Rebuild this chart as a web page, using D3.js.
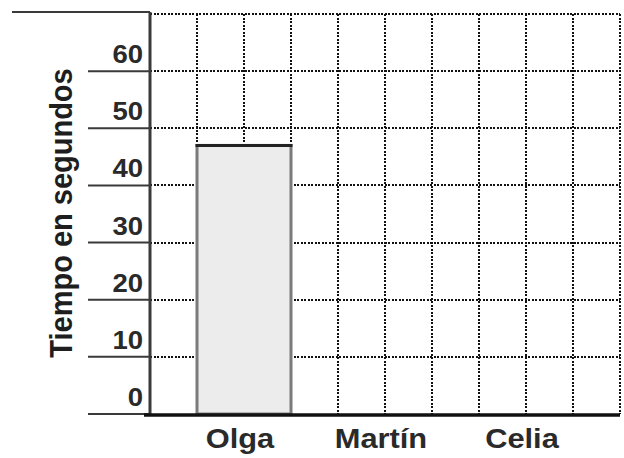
<!DOCTYPE html>
<html>
<head>
<meta charset="utf-8">
<script src="https://cdn.jsdelivr.net/npm/d3@7"></script>
<style>
  html, body { margin: 0; padding: 0; background: #fff; }
  svg { display: block; }
  text { font-family: "Liberation Sans", Arial, Helvetica, sans-serif; font-weight: bold; }
</style>
</head>
<body>
<svg id="chart" width="624" height="458"></svg>
<script>
// ---- data ----
const categories = ["Olga", "Martín", "Celia"];
const values = [47, null, null];          // only Olga's bar is drawn in the worksheet
const yTicks = [0, 10, 20, 30, 40, 50, 60];
const yMax = 70;
const gridColumns = 10;
const yTitle = "Tiempo en segundos";

// ---- layout ----
const svg = d3.select("#chart");
const plot = { left: 150, right: 620, top: 14, bottom: 414 };

const x = d3.scaleBand().domain(categories)
  .range([plot.left, plot.right]).paddingInner(1 / 3).paddingOuter(1 / 3);
const y = d3.scaleLinear().domain([0, yMax]).range([plot.bottom, plot.top]);
const gx = d3.scaleLinear().domain([0, gridColumns]).range([plot.left, plot.right]);

svg.append("rect").attr("width", 624).attr("height", 458).attr("fill", "#fff");

// dotted grid
const gridVals = d3.range(10, yMax + 1, 10);
const grid = svg.append("g")
  .attr("stroke", "#111").attr("stroke-width", 2).attr("stroke-dasharray", "2,1.5")
  .attr("shape-rendering", "crispEdges");
grid.selectAll("line.h").data(gridVals).join("line").attr("class", "h")
  .attr("x1", plot.left).attr("x2", plot.right)
  .attr("y1", d => Math.round(y(d))).attr("y2", d => Math.round(y(d)));
grid.selectAll("line.v").data(d3.range(1, gridColumns + 1)).join("line").attr("class", "v")
  .attr("x1", d => Math.round(gx(d))).attr("x2", d => Math.round(gx(d)))
  .attr("y1", y(yMax)).attr("y2", y(0));

// bars
const barData = categories.map((c, i) => ({ c, v: values[i] })).filter(d => d.v != null);
const bars = svg.append("g").selectAll("g").data(barData).join("g");
bars.append("rect")
  .attr("x", d => x(d.c)).attr("width", x.bandwidth())
  .attr("y", d => y(d.v)).attr("height", d => y(0) - y(d.v))
  .attr("fill", "#ececec").attr("stroke", "#7a7a7a").attr("stroke-width", 3);
bars.append("line")
  .attr("x1", d => x(d.c) - 1.5).attr("x2", d => x(d.c) + x.bandwidth() + 1.5)
  .attr("y1", d => y(d.v)).attr("y2", d => y(d.v))
  .attr("stroke", "#222").attr("stroke-width", 3);

// left tick lines
svg.append("g").selectAll("line").data(yTicks).join("line")
  .attr("x1", plot.left - 62).attr("x2", plot.left)
  .attr("y1", d => y(d)).attr("y2", d => y(d))
  .attr("stroke", "#3a3a3a").attr("stroke-width", 2);
// top solid line
svg.append("line")
  .attr("x1", 12).attr("x2", plot.left)
  .attr("y1", y(yMax) - 2).attr("y2", y(yMax) - 2)
  .attr("stroke", "#3a3a3a").attr("stroke-width", 2);

// axes
svg.append("line")
  .attr("x1", plot.left).attr("x2", plot.left)
  .attr("y1", y(yMax) - 2).attr("y2", y(0) + 1)
  .attr("stroke", "#3a3a3a").attr("stroke-width", 3);
svg.append("line")
  .attr("x1", plot.left - 6).attr("x2", plot.right)
  .attr("y1", y(0) + 1).attr("y2", y(0) + 1)
  .attr("stroke", "#111").attr("stroke-width", 3.5);

// tick labels
svg.append("g").selectAll("text").data(yTicks).join("text")
  .attr("transform", d => `translate(${plot.left - 7},${y(d) - 8}) scale(1.1,1)`)
  .attr("text-anchor", "end").attr("font-size", 25).attr("fill", "#2a2a2a")
  .text(d => d);

// category labels
svg.append("g").selectAll("text").data(categories).join("text")
  .attr("transform", d => `translate(${x(d) + x.bandwidth() / 2 - 4},448) scale(1.1,1)`)
  .attr("text-anchor", "middle").attr("font-size", 28).attr("fill", "#2a2a2a")
  .text(d => d);

// y title
svg.append("text")
  .attr("transform", "translate(72,213) scale(1.1,1) rotate(-90)")
  .attr("text-anchor", "middle").attr("font-size", 29).attr("fill", "#1e1e1e")
  .text(yTitle);
</script>
</body>
</html>
